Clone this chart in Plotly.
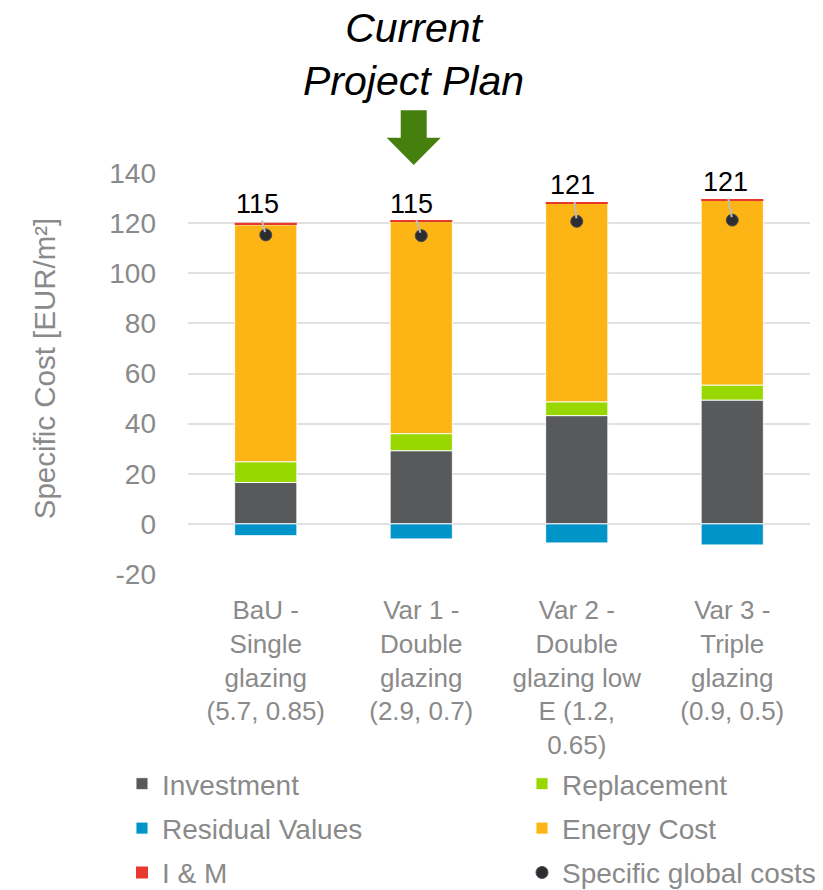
import plotly.graph_objects as go

# Glazing variants (category labels wrap over several lines)
categories = [
    "BaU -<br>Single<br>glazing<br>(5.7, 0.85)",
    "Var 1 -<br>Double<br>glazing<br>(2.9, 0.7)",
    "Var 2 -<br>Double<br>glazing low<br>E (1.2,<br>0.65)",
    "Var 3 -<br>Triple<br>glazing<br>(0.9, 0.5)",
]

# Cost components in EUR/m²
investment = [16.5, 29.2, 43.2, 49.4]
replacement = [8.3, 6.8, 5.5, 6.0]
residual_values = [-4.7, -6.0, -7.6, -8.4]
energy_cost = [94.5, 84.6, 79.2, 73.8]
i_and_m = [0.8, 0.4, 0.4, 0.4]
global_costs = [115.3, 115.0, 120.7, 121.2]

y_ticks = [-20, 0, 20, 40, 60, 80, 100, 120, 140]
y_tick_text = ["-20", "0", "20", "40", "60", "80", "100", "120", "140"]

FONT = "Liberation Sans, Arial, sans-serif"
GREY_TEXT = "#8a8a8a"

fig = go.Figure()

bar_line = dict(color="rgba(255,255,255,0.9)", width=1)

fig.add_bar(x=categories, y=investment, name="Investment",
            marker=dict(color="#58595b", line=bar_line),
            legend="legend", legendgroup="inv")
fig.add_bar(x=categories, y=replacement, name="Replacement",
            marker=dict(color="#99d700", line=bar_line),
            legend="legend2", legendgroup="rep")
fig.add_bar(x=categories, y=residual_values, name="Residual Values",
            marker=dict(color="#0094c8", line=bar_line),
            legend="legend", legendgroup="res")
fig.add_bar(x=categories, y=energy_cost, name="Energy Cost",
            marker=dict(color="#fdb415", line=bar_line),
            legend="legend2", legendgroup="en")
fig.add_bar(x=categories, y=i_and_m, name="I & M",
            marker=dict(color="#e8392e", line=dict(width=0)),
            legend="legend", legendgroup="im")
fig.add_scatter(x=categories, y=global_costs, name="Specific global costs",
                mode="markers",
                marker=dict(color="#2b2d31", size=12,
                            line=dict(color="#4a4c50", width=1)),
                legend="legend2", legendgroup="gc")

# Value labels for the global costs, offset above each bar with a leader line
label_offsets = [(-8, -31), (-10, -32), (-4, -36), (-7, -38)]
for cat, val, (ax, ay) in zip(categories, global_costs, label_offsets):
    fig.add_annotation(
        x=cat, y=val, text=f"{val:.0f}",
        showarrow=True, arrowhead=0, arrowwidth=2, arrowcolor="#bdbdbd",
        ax=ax, ay=ay, standoff=3,
        font=dict(family=FONT, size=27, color="#000000"),
    )

# Heading and green arrow over the current project plan
fig.add_annotation(
    xref="paper", yref="paper", x=0.362, y=1.296,
    text="<i>Current<br>Project Plan</i>", showarrow=False,
    xanchor="center", yanchor="middle",
    font=dict(family=FONT, size=41, color="#000000"),
)
fig.add_shape(
    type="path", xref="paper", yref="paper",
    path=("M 0.342 1.1563 L 0.3838 1.1563 L 0.3838 1.0882 L 0.4063 1.0882 "
          "L 0.3629 1.0201 L 0.3195 1.0882 L 0.342 1.0882 Z"),
    fillcolor="#45800e", line=dict(width=0),
)

# Vertical axis title
fig.add_annotation(
    xref="paper", yref="paper", x=-0.2315, y=0.513,
    text="Specific Cost [EUR/m²]", showarrow=False, textangle=-90,
    xanchor="center", yanchor="middle",
    font=dict(family=FONT, size=29.5, color=GREY_TEXT),
)

legend_common = dict(
    orientation="v", yanchor="top", xanchor="left",
    xref="container", yref="container",
    font=dict(family=FONT, size=28, color=GREY_TEXT),
    tracegroupgap=5, bgcolor="rgba(0,0,0,0)", borderwidth=0,
    itemclick=False, itemdoubleclick=False,
)

fig.update_layout(
    width=823, height=890,
    margin=dict(l=188, r=13, t=173, b=316, autoexpand=False),
    paper_bgcolor="white", plot_bgcolor="white",
    barmode="relative", bargap=0.6,
    font=dict(family=FONT, color=GREY_TEXT),
    legend=dict(x=122 / 823, y=1 - 759 / 890, **legend_common),
    legend2=dict(x=522 / 823, y=1 - 759 / 890, **legend_common),
    xaxis=dict(
        showgrid=False, zeroline=False, showline=False, ticks="",
        tickfont=dict(family=FONT, size=26, color=GREY_TEXT),
        tickangle=0, ticklabelstandoff=18, automargin=False,
    ),
    yaxis=dict(
        range=[-20, 140], tickvals=y_ticks, ticktext=y_tick_text,
        zeroline=False, showgrid=True, gridcolor="#e1e1e1", gridwidth=1.5,
        showline=False, ticks="",
        tickfont=dict(family=FONT, size=28, color=GREY_TEXT),
        ticklabelstandoff=31, automargin=False,
    ),
)

fig.write_html("out.html")
